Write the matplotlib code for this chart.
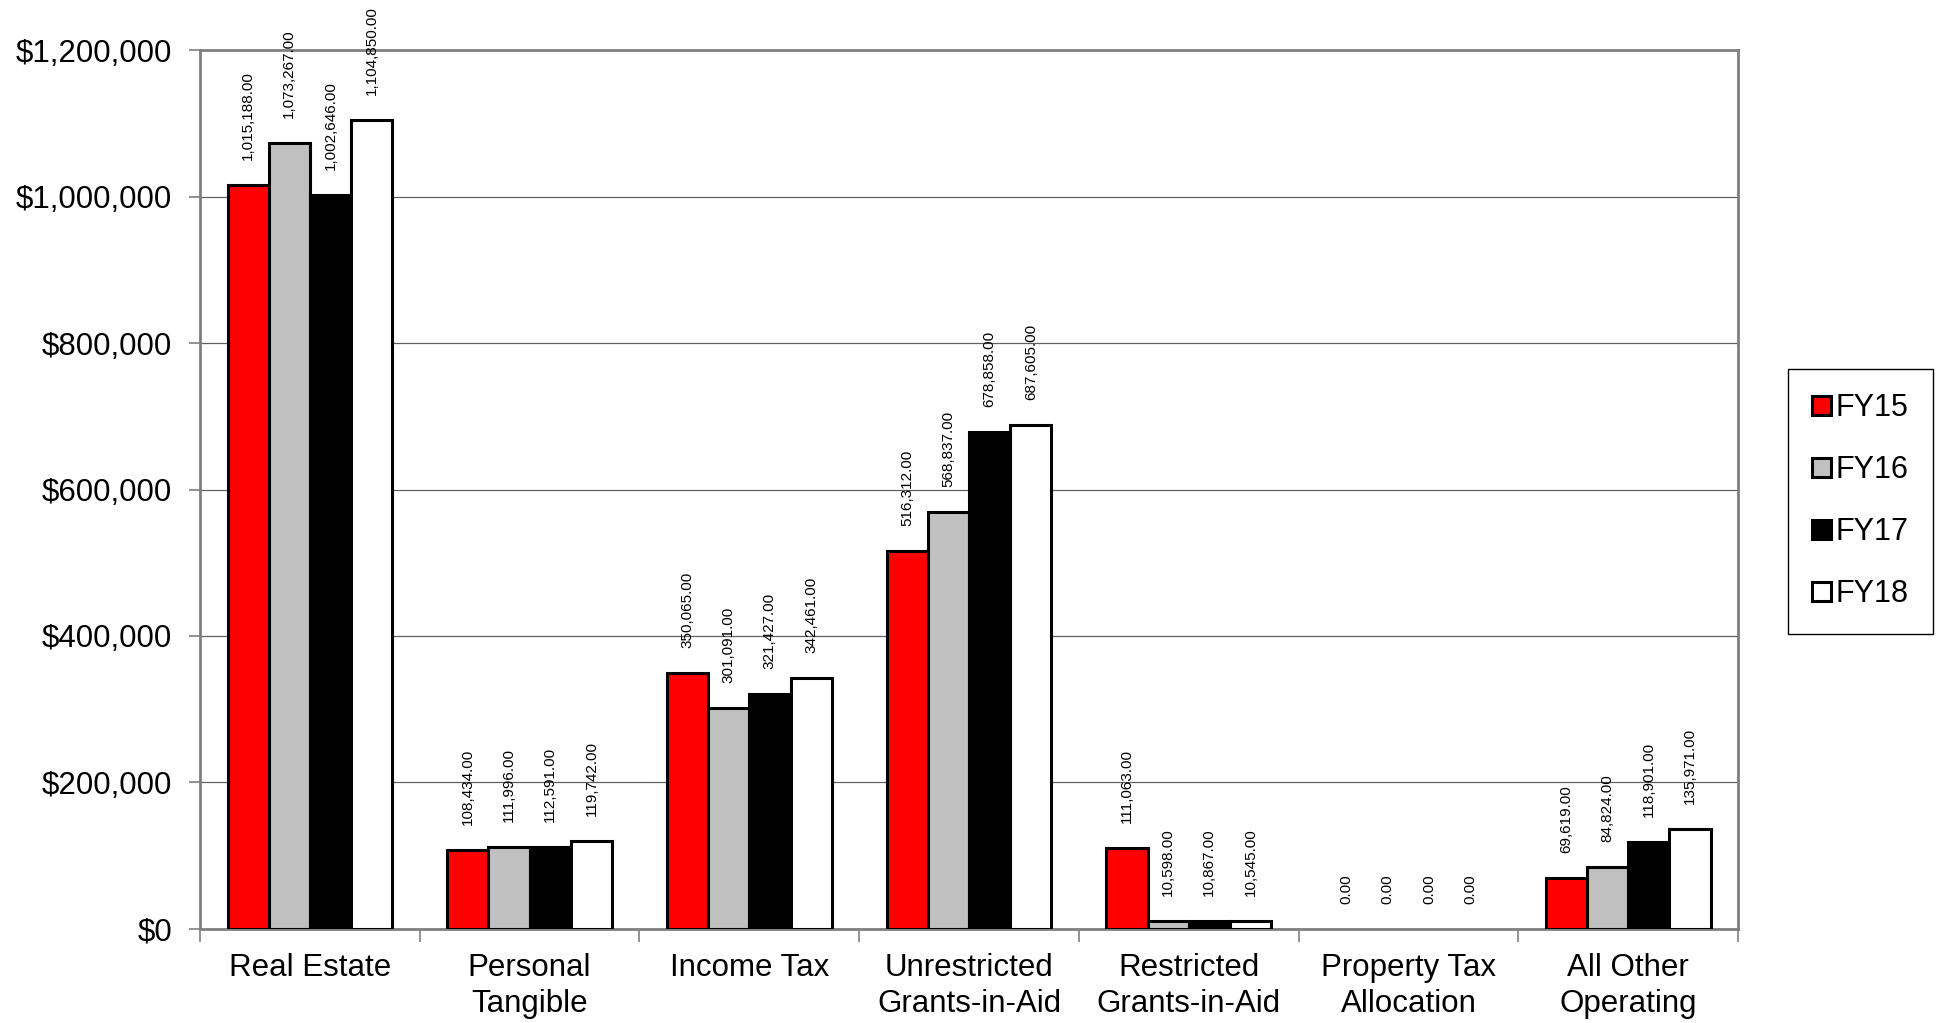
import matplotlib.pyplot as plt
import matplotlib.ticker as mticker
import numpy as np

# Chart data
categories = ['Real Estate', 'Personal\nTangible', 'Income Tax', 'Unrestricted\nGrants-in-Aid',
              'Restricted\nGrants-in-Aid', 'Property Tax\nAllocation', 'All Other\nOperating']
years = ['FY15', 'FY16', 'FY17', 'FY18']
fy15 = [1015188, 108434, 350065, 516312, 111063, 0, 69619]
fy16 = [1073267, 111996, 301091, 568837, 10598, 0, 84824]
fy17 = [1002646, 112591, 321427, 678858, 10867, 0, 118901]
fy18 = [1104850, 119742, 342461, 687605, 10545, 0, 135971]
y_ticks = [0, 200000, 400000, 600000, 800000, 1000000, 1200000]

colors = ['#ff0000', '#c0c0c0', '#000000', '#ffffff']

plt.rcParams['font.family'] = ['Liberation Sans', 'DejaVu Sans']

fig = plt.figure(figsize=(19.46, 10.23), dpi=100)
ax = fig.add_axes([0.1028, 0.0919, 0.7903, 0.8592])

x = np.arange(len(categories))
width = 0.75 / 4
series = [fy15, fy16, fy17, fy18]

for i, values in enumerate(series):
    pos = x - 0.375 + width * (i + 0.5)
    bars = ax.bar(pos, values, width, color=colors[i], edgecolor='black',
                  linewidth=2.2, label=years[i], zorder=3)
    for bar, val in zip(bars, values):
        if val == 0:
            bar.set_linewidth(0)
        ax.annotate('{:,.2f}'.format(val), (bar.get_x() + bar.get_width() / 2, val),
                    xytext=(0, 18), textcoords='offset points', rotation=90,
                    ha='center', va='bottom', fontsize=11, zorder=4)

ax.set_xlim(-0.5, len(categories) - 0.5)
ax.set_ylim(0, 1200000)
ax.set_yticks(y_ticks)
ax.yaxis.set_major_formatter(mticker.FuncFormatter(lambda v, p: '${:,.0f}'.format(v)))

ax.set_xticks(x)
ax.set_xticklabels(categories, linespacing=1.3)
ax.set_xticks(np.arange(-0.5, len(categories)), minor=True)
ax.tick_params(axis='x', which='major', length=0, pad=17, labelsize=22.5)
ax.tick_params(axis='x', which='minor', length=9, width=1.2, color='#808080')
ax.tick_params(axis='y', length=8, width=1.2, color='#808080', pad=12, labelsize=22.5)

ax.grid(axis='y', color='#606060', linewidth=0.9, zorder=0)
ax.set_axisbelow(True)
for s in ax.spines.values():
    s.set_color('#808080')
    s.set_linewidth(2)

leg = ax.legend(loc='center left', bbox_to_anchor=(0.9188, 0.51), bbox_transform=fig.transFigure,
                borderaxespad=0, fontsize=22, handlelength=0.6, handleheight=0.6,
                handletextpad=0.15, labelspacing=1.05, borderpad=0.8, fancybox=False,
                framealpha=1)
leg.get_frame().set_edgecolor('black')
leg.get_frame().set_linewidth(1)

plt.savefig('out.png', dpi=100)
